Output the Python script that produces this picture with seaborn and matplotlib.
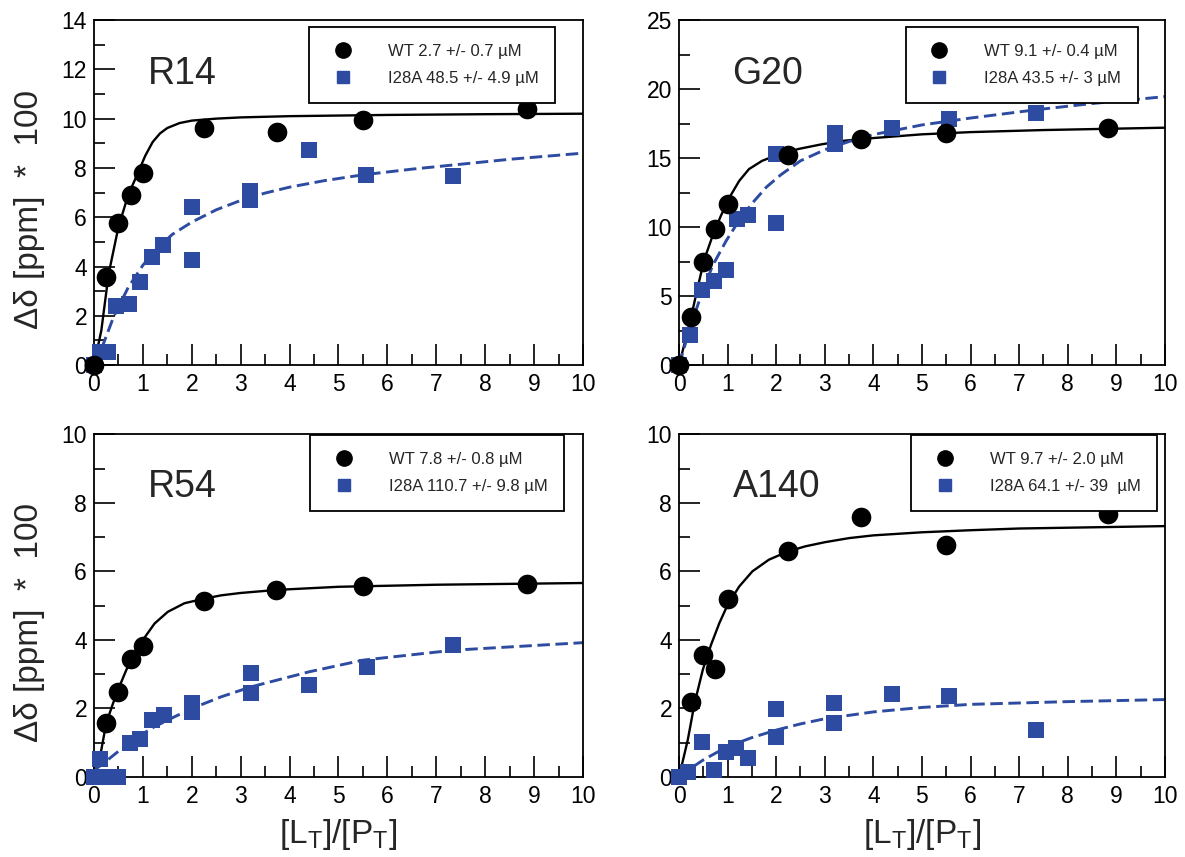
import matplotlib
matplotlib.use("Agg")
import matplotlib.pyplot as plt
from matplotlib.lines import Line2D
from matplotlib.ticker import MultipleLocator
import seaborn as sns

sns.set_style("white")
plt.rcParams["font.family"] = ["Liberation Sans", "DejaVu Sans"]
plt.rcParams["mathtext.fontset"] = "custom"
plt.rcParams["mathtext.rm"] = "Liberation Sans"
plt.rcParams["lines.scale_dashes"] = False

BLUE = "#2d4ba0"

# ---- R14 ----
r14_wt_x = [0, 0.25, 0.5, 0.75, 1.0, 2.25, 3.75, 5.5, 8.85]
r14_wt_y = [0, 3.57, 5.78, 6.9, 7.8, 9.6, 9.47, 9.95, 10.41]
r14_mut_x = [0, 0.12, 0.28, 0.46, 0.71, 0.95, 1.19, 1.42, 2.0, 2.0, 3.2, 3.2, 4.4, 5.57, 7.35]
r14_mut_y = [0, 0.53, 0.53, 2.41, 2.48, 3.37, 4.39, 4.89, 6.43, 4.25, 7.05, 6.7, 8.71, 7.7, 7.67]
r14_wt_fit_x = [0, 0.15, 0.3, 0.5, 0.7, 0.9, 1.05, 1.2, 1.35, 1.5, 1.75, 2.0, 2.5, 3.0, 4.0, 6.0, 8.0, 10.0]
r14_wt_fit_y = [0, 1.4, 3.7, 5.6, 6.9, 7.8, 8.5, 9.05, 9.4, 9.62, 9.82, 9.92, 10.0, 10.05, 10.1, 10.15, 10.18, 10.2]
r14_mut_fit_x = [0, 0.2, 0.4, 0.7, 1.0, 1.25, 1.6, 2.0, 2.5, 3.0, 3.5, 4.0, 4.7, 5.5, 6.5, 7.5, 8.5, 10.0]
r14_mut_fit_y = [0, 0.9, 1.95, 3.15, 4.05, 4.65, 5.3, 5.8, 6.3, 6.68, 6.98, 7.22, 7.48, 7.72, 7.95, 8.15, 8.35, 8.6]

# ---- G20 ----
g20_wt_x = [0, 0.25, 0.5, 0.75, 1.0, 2.25, 3.75, 5.5, 8.83]
g20_wt_y = [0, 3.52, 7.48, 9.83, 11.65, 15.2, 16.36, 16.85, 17.2]
g20_mut_x = [0, 0.23, 0.48, 0.71, 0.97, 1.19, 1.42, 2.0, 2.0, 3.21, 3.21, 4.38, 5.55, 7.35]
g20_mut_y = [0, 2.18, 5.46, 6.07, 6.9, 10.56, 10.9, 10.3, 15.3, 16.84, 16.0, 17.2, 17.8, 18.3]
g20_wt_fit_x = [0, 0.15, 0.25, 0.39, 0.52, 0.69, 0.86, 1.03, 1.24, 1.44, 1.71, 2.0, 2.46, 2.94, 3.41, 4.0, 5.0, 6.0, 7.5, 10.0]
g20_wt_fit_y = [0, 2.06, 3.5, 5.7, 7.65, 9.35, 10.8, 12.1, 13.35, 14.2, 14.8, 15.2, 15.66, 16.0, 16.26, 16.45, 16.72, 16.88, 17.03, 17.2]
g20_mut_fit_x = [0, 0.22, 0.42, 0.69, 0.97, 1.24, 1.5, 1.8, 2.1, 2.5, 3.0, 3.5, 4.0, 5.0, 6.0, 7.35, 8.5, 10.0]
g20_mut_fit_y = [0, 2.6, 4.7, 7.2, 9.0, 10.5, 11.7, 12.9, 13.8, 14.8, 15.6, 16.2, 16.7, 17.4, 17.9, 18.5, 18.95, 19.45]

# ---- R54 ----
r54_wt_x = [0.25, 0.5, 0.75, 1.0, 2.24, 3.72, 5.5, 8.85]
r54_wt_y = [1.57, 2.49, 3.43, 3.82, 5.14, 5.46, 5.56, 5.64]
r54_mut_x = [0, 0.25, 0.5, 0.12, 0.73, 0.95, 1.18, 1.43, 2.0, 2.0, 3.21, 3.21, 4.4, 5.58, 7.35]
r54_mut_y = [0, 0, 0, 0.52, 0.98, 1.1, 1.66, 1.81, 1.9, 2.15, 3.03, 2.45, 2.68, 3.22, 3.85]
r54_wt_fit_x = [0, 0.15, 0.25, 0.39, 0.52, 0.66, 0.83, 1.0, 1.24, 1.51, 1.85, 2.24, 2.6, 3.0, 3.75, 5.0, 7.0, 10.0]
r54_wt_fit_y = [0, 0.79, 1.57, 2.15, 2.64, 3.12, 3.61, 4.0, 4.48, 4.82, 5.07, 5.2, 5.3, 5.37, 5.46, 5.55, 5.61, 5.66]
r54_mut_fit_x = [0, 0.15, 0.49, 0.9, 1.24, 1.65, 2.0, 2.6, 3.21, 4.4, 5.5, 7.35, 10.0]
r54_mut_fit_y = [0.2, 0.35, 0.74, 1.18, 1.47, 1.76, 2.0, 2.34, 2.63, 3.07, 3.41, 3.7, 3.92]

# ---- A140 ----
a140_wt_x = [0.25, 0.5, 0.75, 1.0, 2.24, 3.75, 5.5, 8.83]
a140_wt_y = [2.18, 3.56, 3.15, 5.19, 6.58, 7.58, 6.78, 7.66]
a140_mut_x = [0, 0.18, 0.48, 0.71, 0.97, 1.18, 1.42, 2.0, 2.0, 3.2, 3.2, 4.38, 5.55, 7.35]
a140_mut_y = [0, 0.16, 1.03, 0.2, 0.72, 0.84, 0.55, 1.98, 1.16, 2.17, 1.59, 2.42, 2.36, 1.37]
a140_wt_fit_x = [0, 0.18, 0.32, 0.49, 0.66, 0.83, 1.0, 1.24, 1.51, 1.85, 2.24, 2.6, 3.0, 3.5, 4.0, 5.0, 6.0, 7.0, 10.0]
a140_wt_fit_y = [0, 1.08, 2.15, 3.13, 3.86, 4.49, 5.02, 5.56, 6.0, 6.34, 6.58, 6.73, 6.85, 6.97, 7.05, 7.14, 7.2, 7.25, 7.32]
a140_mut_fit_x = [0, 0.29, 0.5, 1.0, 1.5, 2.0, 2.5, 3.0, 4.0, 5.0, 6.0, 8.0, 10.0]
a140_mut_fit_y = [0, 0.3, 0.5, 0.89, 1.15, 1.37, 1.55, 1.7, 1.9, 2.03, 2.12, 2.2, 2.26]

panels = [
    dict(name="R14", wt=(r14_wt_x, r14_wt_y), mut=(r14_mut_x, r14_mut_y),
         wt_fit=(r14_wt_fit_x, r14_wt_fit_y), mut_fit=(r14_mut_fit_x, r14_mut_fit_y),
         labels=("WT 2.7 +/- 0.7 µM", "I28A 48.5 +/- 4.9 µM"),
         ylim=14, major=2, minor=1, rect=[0.0793, 0.574, 0.4127, 0.4026],
         leg=(0.943, 0.98), ylab=True, xlab=False),
    dict(name="G20", wt=(g20_wt_x, g20_wt_y), mut=(g20_mut_x, g20_mut_y),
         wt_fit=(g20_wt_fit_x, g20_wt_fit_y), mut_fit=(g20_mut_fit_x, g20_mut_fit_y),
         labels=("WT 9.1 +/- 0.4 µM", "I28A 43.5 +/- 3 µM"),
         ylim=25, major=5, minor=2.5, rect=[0.573, 0.574, 0.410, 0.4026],
         leg=(0.944, 0.98), ylab=False, xlab=False),
    dict(name="R54", wt=(r54_wt_x, r54_wt_y), mut=(r54_mut_x, r54_mut_y),
         wt_fit=(r54_wt_fit_x, r54_wt_fit_y), mut_fit=(r54_mut_fit_x, r54_mut_fit_y),
         labels=("WT 7.8 +/- 0.8 µM", "I28A 110.7 +/- 9.8 µM"),
         ylim=10, major=2, minor=1, rect=[0.0793, 0.0933, 0.4127, 0.400],
         leg=(0.961, 0.998), ylab=True, xlab=True),
    dict(name="A140", wt=(a140_wt_x, a140_wt_y), mut=(a140_mut_x, a140_mut_y),
         wt_fit=(a140_wt_fit_x, a140_wt_fit_y), mut_fit=(a140_mut_fit_x, a140_mut_fit_y),
         labels=("WT 9.7 +/- 2.0 µM", "I28A 64.1 +/- 39  µM"),
         ylim=10, major=2, minor=1, rect=[0.573, 0.0933, 0.410, 0.400],
         leg=(0.984, 0.998), ylab=False, xlab=True),
]

fig = plt.figure(figsize=(11.85, 8.57), dpi=100)

for p in panels:
    ax = fig.add_axes(p["rect"])
    # fitted curves
    sns.lineplot(x=p["wt_fit"][0], y=p["wt_fit"][1], ax=ax, color="black",
                 lw=1.7, sort=False, estimator=None)
    sns.lineplot(x=p["mut_fit"][0], y=p["mut_fit"][1], ax=ax, color=BLUE,
                 lw=2.1, sort=False, estimator=None, linestyle="--")
    ax.lines[-1].set_dashes((9, 4))
    # data points
    sns.scatterplot(x=p["mut"][0], y=p["mut"][1], ax=ax, color=BLUE, marker="s",
                    s=125, linewidth=0, clip_on=False, zorder=3)
    sns.scatterplot(x=p["wt"][0], y=p["wt"][1], ax=ax, color="black", marker="o",
                    s=200, linewidth=0, clip_on=False, zorder=4)

    ax.set_xlim(0, 10)
    ax.set_ylim(0, p["ylim"])
    ax.xaxis.set_major_locator(MultipleLocator(1))
    ax.xaxis.set_minor_locator(MultipleLocator(0.5))
    ax.yaxis.set_major_locator(MultipleLocator(p["major"]))
    ax.yaxis.set_minor_locator(MultipleLocator(p["minor"]))
    ax.tick_params(which="both", direction="in", top=False, right=False,
                   bottom=True, left=True, width=1.2, colors="black", labelsize=16.5)
    ax.tick_params(which="major", length=15)
    ax.tick_params(axis="x", which="major", pad=6)
    ax.tick_params(axis="y", which="major", pad=5)
    ax.tick_params(which="minor", length=8)
    for sp in ax.spines.values():
        sp.set_color("black")
        sp.set_linewidth(1.3)

    ax.text(0.11, 0.845, p["name"], transform=ax.transAxes, fontsize=27,
            va="center", ha="left")

    handles = [
        Line2D([], [], ls="none", marker="o", color="black", markersize=11),
        Line2D([], [], ls="none", marker="s", color=BLUE, markersize=9),
    ]
    leg = ax.legend(handles, p["labels"], loc="upper right", bbox_to_anchor=p["leg"],
                    fontsize=12, frameon=True, fancybox=False, framealpha=1,
                    borderpad=1.0, handlelength=2.0, handletextpad=1.7,
                    labelspacing=0.75, borderaxespad=0)
    leg.get_frame().set_edgecolor("black")
    leg.get_frame().set_linewidth(1.3)

    if p["ylab"]:
        ax.set_ylabel("Δδ [ppm]  *  100", fontsize=24)
        ax.yaxis.set_label_coords(-0.1, 0.45)
    else:
        ax.set_ylabel("")
    if p["xlab"]:
        ax.set_xlabel(r"[L$_\mathregular{T}$]/[P$_\mathregular{T}$]", fontsize=24, labelpad=6)
    else:
        ax.set_xlabel("")

fig.savefig("out.png", dpi=100)
